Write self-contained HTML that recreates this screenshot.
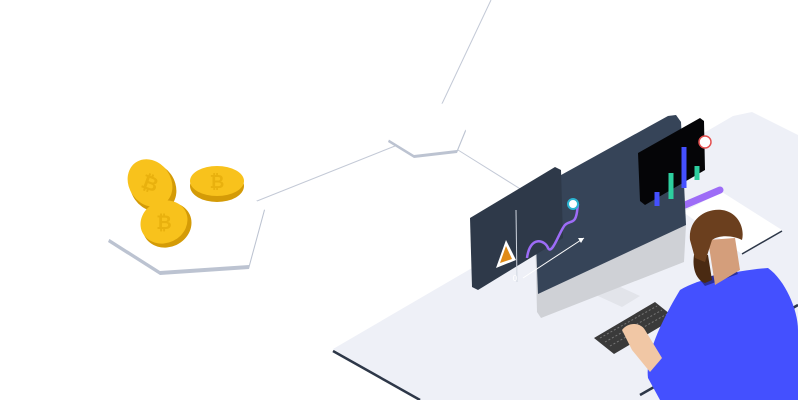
<!DOCTYPE html>
<html><head><style>html,body{margin:0;padding:0;background:#fff;overflow:hidden}svg{display:block}</style></head>
<body>
<svg width="798" height="400" viewBox="0 0 798 400" xmlns="http://www.w3.org/2000/svg">
<g stroke="#c3c9d6" stroke-width="1" fill="none">
<line x1="252" y1="203" x2="395" y2="146"/>
<line x1="458" y1="150" x2="522" y2="190"/>
<line x1="440" y1="108" x2="491" y2="0"/>
</g>
<!-- hexagons -->
<polygon points="108,242 130,194 215,180 265,210 249,269 160,275" fill="#bcc3d1"/>
<polygon points="108,238 130,190 215,176 265,206 249,265 160,271" fill="#fff"/>
<polygon points="388,142 400,112 455,105 466,131 457,153 414,158" fill="#bcc3d1"/>
<polygon points="388,139 400,109 455,102 466,128 457,150 414,155" fill="#fff"/>
<!-- coins -->
<g>
<ellipse cx="153" cy="187" rx="22" ry="26" transform="rotate(-35 153 187)" fill="#d49b07"/>
<ellipse cx="150" cy="183" rx="21" ry="25" transform="rotate(-35 150 183)" fill="#f8c21c"/>
<text x="150" y="190" font-family="Liberation Sans,sans-serif" font-size="20" font-weight="bold" fill="#e9b10e" text-anchor="middle" transform="rotate(20 150 183)">₿</text>
<ellipse cx="217" cy="186" rx="27" ry="16" fill="#d49b07"/>
<ellipse cx="217" cy="181" rx="27" ry="15" fill="#f8c21c"/>
<text x="217" y="188" font-family="Liberation Sans,sans-serif" font-size="18" font-weight="bold" fill="#e9b10e" text-anchor="middle">₿</text>
<ellipse cx="167" cy="225" rx="25" ry="22" transform="rotate(-25 167 225)" fill="#d49b07"/>
<ellipse cx="164" cy="222" rx="24" ry="21" transform="rotate(-25 164 222)" fill="#f8c21c"/>
<text x="164" y="229" font-family="Liberation Sans,sans-serif" font-size="19" font-weight="bold" fill="#e9b10e" text-anchor="middle">₿</text>
</g>
<!-- desk -->
<polygon points="333,349 733,116 752,112 798,135 798,400 420,400" fill="#eef0f7"/>
<polyline points="333,351 420,400" stroke="#2d3748" stroke-width="2.5" fill="none"/>
<polyline points="640,395 798,305" stroke="#2d3748" stroke-width="2.5" fill="none"/>
<!-- paper & purple bar -->
<polygon points="683,212 722,192 782,230 742,254" fill="#fff"/>
<line x1="742" y1="254" x2="782" y2="231" stroke="#2d3748" stroke-width="1.5"/>
<line x1="685" y1="205" x2="720" y2="190" stroke="#9d6cf7" stroke-width="7" stroke-linecap="round"/>
<!-- stand -->
<polygon points="585,290 622,307 640,296 605,280" fill="#e2e4ea"/>
<!-- monitor -->
<polygon points="534,190 668,116 676,115 681,122 686,225 684,262 541,318 537,312" fill="#cfd1d6"/>
<polygon points="534,190 668,116 676,115 681,122 686,225 538,294" fill="#364458"/>
<polygon points="638,153 700,118 704,121 705,170 645,205 640,201" fill="#050507"/>
<g stroke-width="5">
<line x1="657" y1="192" x2="657" y2="206" stroke="#4450ff"/>
<line x1="671" y1="173" x2="671" y2="199" stroke="#2dcf9f"/>
<line x1="684" y1="147" x2="684" y2="188" stroke="#4450ff"/>
<line x1="697" y1="166" x2="697" y2="180" stroke="#2dcf9f"/>
</g>
<circle cx="705" cy="142" r="6" fill="#fff" stroke="#e45050" stroke-width="1.5"/>
<!-- left panel -->
<polygon points="470,218 555,167 561,170 563,238 478,290 472,287" fill="#2e3949"/>
<line x1="516" y1="210" x2="517" y2="282" stroke="#cfd5df" stroke-width="1"/>
<polyline points="523,278 584,238" stroke="#fff" stroke-width="1" fill="none"/>
<polygon points="584,238 578,238 581,243" fill="#fff"/>
<path d="M527,258 C530,235 545,240 548,248 C552,256 560,230 565,225 C570,220 575,225 577,212 L578,204" stroke="#9d6cf7" stroke-width="2.5" fill="none"/>
<circle cx="573" cy="204" r="5" fill="#fff" stroke="#2bb3d0" stroke-width="2"/>
<polygon points="506,240 496,268 516,260" fill="#fff"/>
<polygon points="506,246 500,263 512,259" fill="#e08a16"/>
<text x="515" y="281" font-family="Liberation Sans,sans-serif" font-size="8" fill="#fff" text-anchor="middle">0</text>
<!-- keyboard -->
<polygon points="594,338 655,302 675,318 614,354" fill="#3a3a3a"/>
<g stroke="#777" stroke-width="1" stroke-dasharray="2 2">
<line x1="600" y1="338" x2="657" y2="306"/><line x1="605" y1="342" x2="662" y2="310"/><line x1="610" y1="346" x2="667" y2="314"/>
</g>
<!-- person -->
<path d="M660,400 L648,378 C645,355 662,320 680,290 C700,278 740,270 768,268 C785,280 798,310 798,330 L798,400 Z" fill="#4450ff"/>
<path d="M700,280 L735,268 L738,274 L705,286 Z" fill="#2a2f9a"/>
<path d="M622,330 C628,322 640,322 645,330 L662,358 L650,372 L632,350 Z" fill="#f1c7a5"/>
<path d="M708,240 L735,238 L740,270 L715,285 Z" fill="#d49e7b"/>
<path d="M694,255 C692,268 696,280 705,283 L712,280 L708,255 Z" fill="#4a2a12"/>
<path d="M690,240 C688,220 705,208 722,210 C738,212 745,228 742,240 C735,236 720,234 712,240 L705,262 L695,258 Z" fill="#6b3f1e"/>
</svg>
</body></html>
